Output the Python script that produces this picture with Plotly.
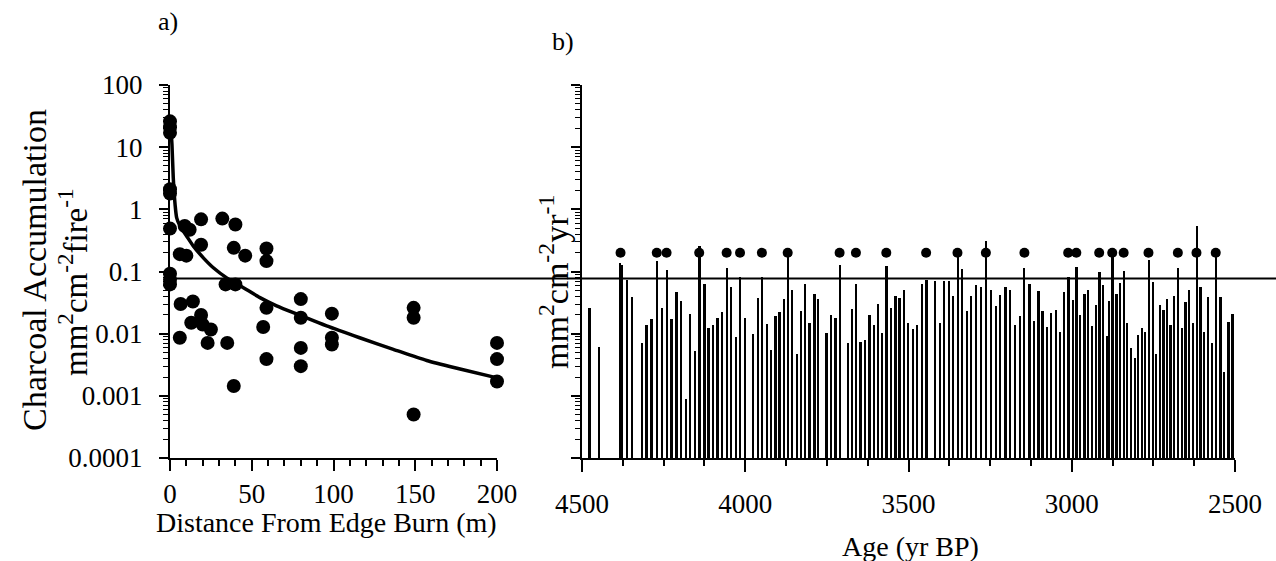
import plotly.graph_objects as go

W, H = 1276, 561

# ---------------- Panel a data ----------------
distance_m = [0, 0, 0, 0, 0, 0, 0, 0, 0,
              6, 10, 9, 12, 19, 19, 6.5, 14, 6, 13, 19, 20, 25, 23, 35,
              32, 40, 39, 46, 34, 40, 39,
              59, 59, 59, 57, 59,
              80, 80, 80, 80,
              99, 99, 99,
              149, 149, 149,
              200, 200, 200]
accum_a = [26, 21, 17, 2.1, 1.8, 0.49, 0.092, 0.074, 0.062,
           0.19, 0.18, 0.54, 0.47, 0.69, 0.27, 0.030, 0.033, 0.0086, 0.015, 0.020, 0.014, 0.0117, 0.0071, 0.0071,
           0.71, 0.57, 0.24, 0.18, 0.062, 0.062, 0.00144,
           0.235, 0.147, 0.026, 0.0128, 0.0039,
           0.036, 0.018, 0.0059, 0.0030,
           0.021, 0.0086, 0.0067,
           0.026, 0.018, 0.0005,
           0.0071, 0.0039, 0.0017]

fit_distance = [0.4, 1.2, 2.0, 3.1, 4.1, 6.1, 10.2, 14.3, 20.4, 26.5, 34.7, 44.9,
                55, 65.2, 79.5, 95.8, 116, 136.6, 157, 177.4, 199.4]
fit_accum = [23, 11, 3.2, 1.2, 0.73, 0.54, 0.37, 0.256, 0.166, 0.115, 0.079, 0.055,
             0.038, 0.028, 0.0197, 0.0133, 0.0086, 0.0056, 0.0037, 0.0027, 0.00196]

threshold = 0.077

y_tick_vals = [0.0001, 0.001, 0.01, 0.1, 1, 10, 100]
y_tick_text = ["0.0001", "0.001", "0.01", "0.1", "1", "10", "100"]
a_x_ticks = [0, 50, 100, 150, 200]

# ---------------- Panel b data ----------------
age_bp = [4478, 4448, 4385, 4380, 4363, 4348, 4317, 4303, 4288, 4271,
          4256, 4241, 4227, 4211, 4197, 4182, 4169, 4155, 4141, 4126,
          4113, 4100, 4086, 4071, 4057, 4044, 4030, 4016, 4002, 3976,
          3962, 3949, 3934, 3921, 3908, 3896, 3883, 3870, 3857, 3842,
          3829, 3817, 3804, 3789, 3777, 3752, 3738, 3724, 3711, 3687,
          3674, 3661, 3648, 3633, 3620, 3607, 3594, 3581, 3568, 3555,
          3541, 3528, 3515, 3502, 3488, 3475, 3460, 3446, 3420, 3404,
          3392, 3377, 3365, 3350, 3337, 3322, 3309, 3293, 3278, 3263,
          3248, 3233, 3220, 3204, 3189, 3174, 3160, 3146, 3130, 3117,
          3103, 3090, 3077, 3064, 3050, 3037, 3024, 3011, 2998, 2986,
          2975, 2962, 2950, 2938, 2927, 2916, 2904, 2893, 2886, 2876,
          2864, 2853, 2841, 2832, 2820, 2808, 2797, 2786, 2776, 2765,
          2753, 2742, 2731, 2720, 2709, 2698, 2687, 2675, 2663, 2652,
          2641, 2630, 2618, 2606, 2595, 2583, 2571, 2559, 2545, 2534,
          2521, 2508]
accum_b = [0.026, 0.0061, 0.138, 0.129, 0.072, 0.039, 0.0072, 0.014, 0.0174, 0.147,
           0.026, 0.105, 0.017, 0.047, 0.034, 0.0009, 0.021, 0.0053, 0.255, 0.062,
           0.0125, 0.0137, 0.018, 0.022, 0.112, 0.056, 0.0089, 0.081, 0.0176, 0.0098,
           0.038, 0.081, 0.0145, 0.0054, 0.019, 0.0226, 0.036, 0.21, 0.051, 0.0047,
           0.023, 0.062, 0.015, 0.044, 0.0355, 0.0104, 0.020, 0.018, 0.126, 0.0070,
           0.0245, 0.062, 0.0074, 0.0079, 0.020, 0.0138, 0.030, 0.0101, 0.122, 0.026,
           0.040, 0.038, 0.0495, 0.015, 0.0118, 0.0137, 0.062, 0.073, 0.070, 0.015,
           0.070, 0.070, 0.040, 0.199, 0.110, 0.023, 0.040, 0.060, 0.057, 0.307,
           0.051, 0.028, 0.042, 0.056, 0.051, 0.0137, 0.019, 0.115, 0.062, 0.016,
           0.048, 0.023, 0.013, 0.0217, 0.024, 0.0108, 0.0466, 0.081, 0.0347, 0.119,
           0.020, 0.0438, 0.050, 0.0133, 0.029, 0.0975, 0.060, 0.0092, 0.034, 0.199,
           0.0438, 0.066, 0.101, 0.015, 0.0058, 0.0041, 0.0095, 0.0122, 0.0108, 0.152,
           0.0675, 0.0047, 0.029, 0.024, 0.036, 0.0137, 0.040, 0.115, 0.0125, 0.032,
           0.0495, 0.0147, 0.533, 0.056, 0.0108, 0.039, 0.0072, 0.195, 0.039, 0.0024,
           0.0156, 0.021]

peak_age = [4382, 4271, 4241, 4141, 4057, 4016, 3949, 3870, 3711, 3661, 3568, 3446,
            3350, 3263, 3145, 3011, 2986, 2916, 2876, 2841, 2765, 2675, 2618, 2559]
peak_level = [0.2] * len(peak_age)

b_x_ticks = [4500, 4000, 3500, 3000, 2500]

# ---------------- Figure ----------------
fig = go.Figure()

fig.add_trace(go.Scatter(x=fit_distance, y=fit_accum, mode="lines",
                         line=dict(color="black", width=3.5, shape="spline", smoothing=0.7),
                         xaxis="x", yaxis="y", hoverinfo="skip"))
fig.add_trace(go.Scatter(x=distance_m, y=accum_a, mode="markers",
                         marker=dict(color="black", size=14),
                         xaxis="x", yaxis="y", cliponaxis=False))
fig.add_trace(go.Bar(x=age_bp, y=accum_b, width=5.5,
                     marker=dict(color="black", line=dict(width=0)),
                     xaxis="x2", yaxis="y2"))
fig.add_trace(go.Scatter(x=peak_age, y=peak_level, mode="markers",
                         marker=dict(color="black", size=10),
                         xaxis="x2", yaxis="y2", cliponaxis=False))
fig.add_trace(go.Scatter(x=[0, 1], y=[threshold, threshold], mode="lines",
                         line=dict(color="black", width=2),
                         xaxis="x3", yaxis="y3", hoverinfo="skip"))

ydom = [1 - 458 / H, 1 - 85 / H]
axline = dict(showline=True, linewidth=2, linecolor="black", showgrid=False,
              zeroline=False, tickcolor="black", tickwidth=2, automargin=False)

fig.update_layout(
    width=W, height=H,
    margin=dict(l=0, r=0, t=0, b=0, pad=0, autoexpand=False),
    paper_bgcolor="white", plot_bgcolor="rgba(0,0,0,0)",
    showlegend=False,
    font=dict(family="Liberation Serif", size=27, color="black"),
    xaxis=dict(domain=[170 / W, 497 / W], range=[0, 200], tickmode="array",
               tickvals=a_x_ticks, ticks="outside", ticklen=11, anchor="y",
               ticklabelstandoff=0,
               minor=dict(ticks="outside", dtick=10, ticklen=6, tickwidth=1.5,
                          tickcolor="black"),
               **axline),
    yaxis=dict(domain=ydom, type="log", range=[-4, 2], tickmode="array",
               tickvals=y_tick_vals, ticktext=y_tick_text, ticks="outside",
               ticklen=9, anchor="x", ticklabelstandoff=11,
               minor=dict(ticks="outside", dtick="D1", ticklen=5, tickwidth=1,
                          tickcolor="black"),
               **axline),
    xaxis2=dict(domain=[582 / W, 1235 / W], range=[4500, 2500], tickmode="array",
                tickvals=b_x_ticks, ticks="outside", ticklen=12, anchor="y2",
                ticklabelstandoff=9,
                minor=dict(ticks="outside", dtick=125, ticklen=6, tickwidth=1.5,
                           tickcolor="black"),
                **axline),
    yaxis2=dict(domain=ydom, type="log", range=[-4, 2], tickmode="array",
                tickvals=y_tick_vals, showticklabels=False, ticks="outside",
                ticklen=9, anchor="x2",
                minor=dict(ticks="outside", dtick="D1", ticklen=5, tickwidth=1,
                           tickcolor="black"),
                **axline),
    xaxis3=dict(domain=[166 / W, 1], range=[0, 1], visible=False, anchor="y3",
                automargin=False),
    yaxis3=dict(domain=ydom, type="log", range=[-4, 2], visible=False, anchor="x3",
                automargin=False),
    bargap=0,
)

def ann(text, px, py, size, angle=0):
    fig.add_annotation(text=text, x=px / W, y=1 - py / H, xref="paper", yref="paper",
                       showarrow=False, textangle=angle, xanchor="center",
                       yanchor="middle", font=dict(family="Liberation Serif",
                                                   size=size, color="black"))

ann("a)", 168, 22, 26)
ann("b)", 563, 42, 26)
ann("Charcoal Accumulation", 35, 270, 34, -90)
ann("mm<sup>2</sup>cm<sup>-2</sup>fire<sup>-1</sup>", 73, 282, 33, -90)
ann("Distance From Edge Burn (m)", 327, 522, 28)
ann("Age (yr BP)", 910, 546, 28)
ann("mm<sup>2</sup>cm<sup>-2</sup>yr<sup>-1</sup>", 554, 282, 34, -90)

fig.write_html("out.html")
